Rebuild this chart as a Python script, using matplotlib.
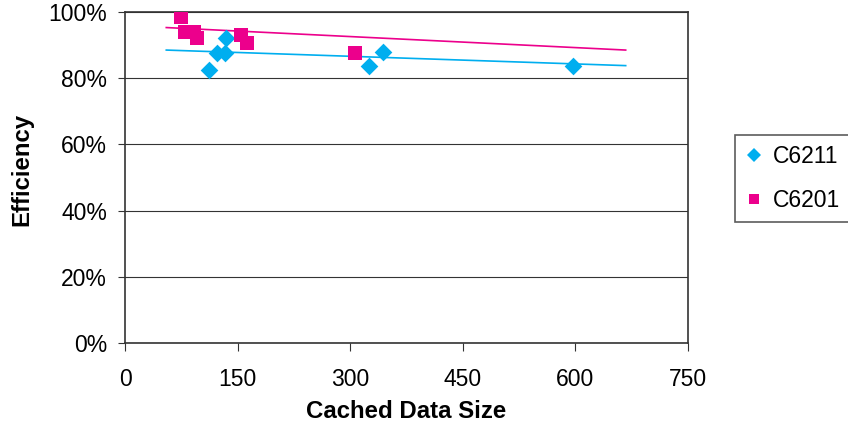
import matplotlib
matplotlib.use('Agg')
import matplotlib.pyplot as plt
from matplotlib.lines import Line2D
import numpy as np

plt.rcParams['font.family'] = ['Liberation Sans', 'DejaVu Sans']

# Data
c6211_size = [112, 122, 133, 135, 325, 344, 597]
c6211_eff = [82.5, 87.5, 87.5, 92.2, 83.8, 87.9, 83.8]

c6201_size = [75, 80, 92, 96, 154, 162, 306]
c6201_eff = [98.4, 94.1, 94.0, 92.0, 93.0, 90.5, 87.5]

# trendline endpoints as drawn in the chart
trend_x = [55, 667]
c6211_trend = [88.5, 83.8]
c6201_trend = [95.3, 88.5]

x_ticks = [0, 150, 300, 450, 600, 750]
y_ticks = [0, 20, 40, 60, 80, 100]

blue = '#00AEEF'
pink = '#EC008C'

fig = plt.figure(figsize=(8.48, 4.26), dpi=100)
ax = fig.add_axes([125 / 848, 1 - 343 / 426, 563 / 848, 331 / 426])

ax.plot(trend_x, c6211_trend, color=blue, lw=1.2, zorder=2)
ax.plot(trend_x, c6201_trend, color=pink, lw=1.2, zorder=2)
ax.scatter(c6211_size, c6211_eff, marker='D', s=9 ** 2, color=blue, lw=0, zorder=3)
ax.scatter(c6201_size, c6201_eff, marker='s', s=9.5 ** 2, color=pink, lw=0, zorder=3)

ax.set_xlim(0, 750)
ax.set_ylim(0, 100)
ax.set_xticks(x_ticks)
ax.set_yticks(y_ticks)
ax.set_yticklabels([f'{v}%' for v in y_ticks])
ax.tick_params(axis='both', direction='out', labelsize=16.5, color='#333333')
ax.tick_params(axis='y', length=5, pad=8)
ax.tick_params(axis='x', length=6, pad=12)
ax.yaxis.grid(True, color='#333333', lw=0.8)
ax.set_axisbelow(True)
for sp in ax.spines.values():
    sp.set_color('#333333')
    sp.set_linewidth(1.2)

ax.set_xlabel('Cached Data Size', fontsize=17.3, fontweight='bold')
ax.set_ylabel('Efficiency', fontsize=17.3, fontweight='bold')
ax.xaxis.set_label_coords(0.5, -0.172)
ax.yaxis.set_label_coords(-0.163, 0.523)

handles = [
    Line2D([], [], marker='D', ls='', color=blue, markersize=7, markeredgewidth=0),
    Line2D([], [], marker='s', ls='', color=pink, markersize=7.5, markeredgewidth=0),
]
leg = fig.legend(handles, ['C6211', 'C6201'], loc='upper left',
                 bbox_to_anchor=(735 / 848, 1 - 135 / 426), borderaxespad=0,
                 fontsize=16.5, frameon=True, fancybox=False, handlelength=0.8,
                 handletextpad=0.4, borderpad=0.45, labelspacing=0.9)
leg.get_frame().set_edgecolor('#333333')
leg.get_frame().set_linewidth(1.2)

fig.savefig('out.png', dpi=100)
